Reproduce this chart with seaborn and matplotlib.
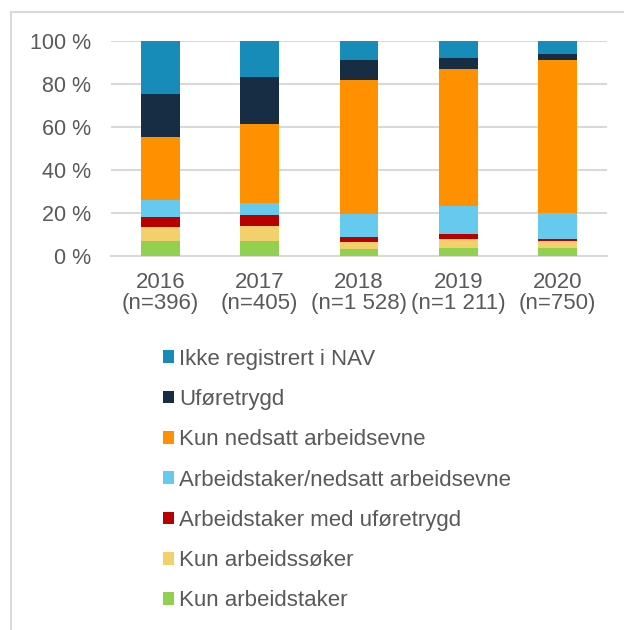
import matplotlib
matplotlib.use("Agg")
import matplotlib.pyplot as plt
import seaborn as sns
import pandas as pd
import numpy as np
from matplotlib.patches import Rectangle, Patch

years = ["2016", "2017", "2018", "2019", "2020"]
n_labels = ["(n=396)", "(n=405)", "(n=1 528)", "(n=1 211)", "(n=750)"]

# Stack order: bottom to top
kun_arbeidstaker = [7.0, 7.0, 3.3, 3.7, 3.7]
kun_arbeidssoker = [6.2, 6.7, 3.1, 4.1, 3.0]
arbeidstaker_ufore = [4.8, 5.4, 2.1, 2.4, 1.1]
arbeidstaker_nedsatt = [7.8, 5.6, 10.9, 12.8, 12.2]
kun_nedsatt = [29.3, 36.6, 62.4, 64.1, 71.1]
uforetrygd = [20.1, 21.8, 9.2, 5.1, 2.7]
ikke_registrert = [24.8, 16.9, 9.0, 7.8, 6.2]

series_names = ["Kun arbeidstaker", "Kun arbeidssøker", "Arbeidstaker med uføretrygd",
                "Arbeidstaker/nedsatt arbeidsevne", "Kun nedsatt arbeidsevne",
                "Uføretrygd", "Ikke registrert i NAV"]
series_vals = [kun_arbeidstaker, kun_arbeidssoker, arbeidstaker_ufore,
               arbeidstaker_nedsatt, kun_nedsatt, uforetrygd, ikke_registrert]
colors = ["#92D050", "#F2D16C", "#B80000", "#66CAEE", "#FF9000", "#172D44", "#178CB8"]

sns.set_theme(style="white")
plt.rcParams['font.family'] = ['Liberation Sans', 'DejaVu Sans']
text_color = "#595959"
fs = 16
fs_y = 15.5

cats = [f"{y}\n{n}" for y, n in zip(years, n_labels)]
df = pd.DataFrame({"cat": cats})
cum = np.zeros(len(years))
cums = []
for v in series_vals:
    cum = cum + np.array(v)
    cums.append(cum.copy())
for name, c in zip(series_names, cums):
    df[name] = c

fig = plt.figure(figsize=(6.24, 6.3), dpi=100)
ax = fig.add_axes([111/624, 1-255.7/630, (607-111)/624, (255.7-41)/630])

# border of chart area
fig.patches.append(Rectangle((11/624, -0.1), 1.2, 1-12/630+0.1, transform=fig.transFigure,
                             fill=False, edgecolor="#D9D9D9", linewidth=1.5, zorder=0))

for name, col in zip(reversed(series_names), reversed(colors)):
    sns.barplot(data=df, x="cat", y=name, color=col, width=0.39, ax=ax,
                saturation=1, linewidth=0, zorder=3)

ax.set_ylim(0, 100)
ax.set_xlim(-0.5, 4.5)
ax.set_yticks([0, 20, 40, 60, 80, 100])
ax.set_yticklabels([f"{t} %" for t in [0, 20, 40, 60, 80, 100]])
ax.set_xlabel("")
ax.set_ylabel("")
ax.grid(axis="y", color="#D9D9D9", linewidth=1.5, zorder=0)
ax.set_axisbelow(True)
for s in ["top", "right", "left"]:
    ax.spines[s].set_visible(False)
ax.spines["bottom"].set_color("#D9D9D9")
ax.spines["bottom"].set_linewidth(1.5)
ax.tick_params(axis="y", length=0, pad=14.5, labelsize=fs_y, labelcolor=text_color)
ax.tick_params(axis="x", length=0, pad=12, labelsize=fs, labelcolor=text_color)
for lab in ax.get_xticklabels():
    lab.set_linespacing(0.97)

handles = [Patch(facecolor=c, edgecolor="none") for c in reversed(colors)]
labels = list(reversed(series_names))
fig.legend(handles, labels, loc="upper left", bbox_to_anchor=(163/624, 1-348.5/630),
           frameon=False, fontsize=fs, labelcolor=text_color,
           handlelength=0.5, handleheight=0.5, handletextpad=0.22,
           labelspacing=0.87, borderpad=0, borderaxespad=0)

fig.savefig("out.png", dpi=100, facecolor="white")
